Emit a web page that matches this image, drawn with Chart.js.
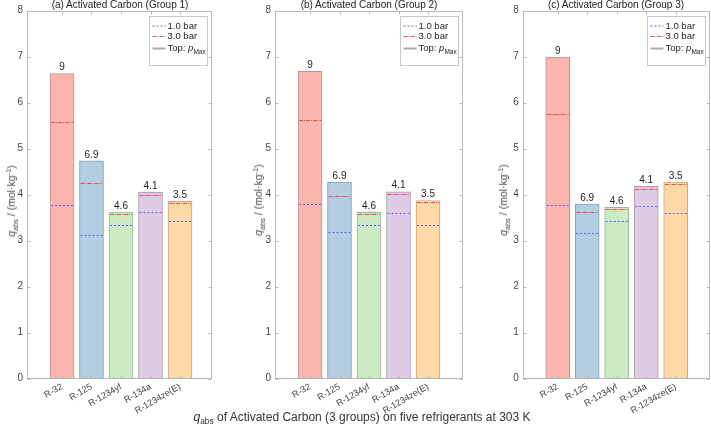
<!DOCTYPE html>
<html>
<head>
<meta charset="utf-8">
<script src="https://cdn.jsdelivr.net/npm/chart.js@4/dist/chart.umd.min.js"></script>
<style>
  body { margin: 0; width: 711px; height: 433px; position: relative; overflow: hidden; background: #fff;
         font-family: "Liberation Sans", Arial, sans-serif; color: #222; }
  canvas { position: absolute; left: 0; top: 0; }
  .ptitle { position: absolute; top: -1px; font-size: 10px; line-height: 11px; white-space: nowrap; transform: translateX(-50%); z-index: 2; }
  .ytitle { position: absolute; font-size: 10.5px; white-space: nowrap; transform: translate(-50%, -50%) rotate(-90deg); z-index: 2; color: #4a4a4a; }
  .xtitle { position: absolute; left: 362px; top: 410px; font-size: 12px; white-space: nowrap; transform: translateX(-50%); z-index: 2; color: #333; }
  sub { font-size: 70%; vertical-align: -0.35em; line-height: 0; }
  sup { font-size: 70%; vertical-align: 0.5em; line-height: 0; }
</style>
</head>
<body>
<canvas id="c1" width="711" height="433"></canvas>
<canvas id="c2" width="711" height="433"></canvas>
<canvas id="c3" width="711" height="433"></canvas>

<div class="ptitle" style="left:120px">(a) Activated Carbon (Group 1)</div>
<div class="ptitle" style="left:369px">(b) Activated Carbon (Group 2)</div>
<div class="ptitle" style="left:616px">(c) Activated Carbon (Group 3)</div>

<div class="ytitle" style="left:11px; top:201px"><i>q</i><sub>abs</sub> / (mol·kg<sup>-1</sup>)</div>
<div class="ytitle" style="left:258px; top:200px"><i>q</i><sub>abs</sub> / (mol·kg<sup>-1</sup>)</div>
<div class="ytitle" style="left:503px; top:200px"><i>q</i><sub>abs</sub> / (mol·kg<sup>-1</sup>)</div>

<div class="xtitle"><i>q</i><sub>abs</sub> of Activated Carbon (3 groups) on five refrigerants at 303 K</div>

<script>
const refrigerants = ["R-32", "R-125", "R-1234yf", "R-134a", "R-1234ze(E)"];
const pMaxLabels = ["9", "6.9", "4.6", "4.1", "3.5"];
const yTicks = [0, 1, 2, 3, 4, 5, 6, 7, 8];

// group 1
const topG1 = [6.63, 4.73, 3.62, 4.05, 3.85];
const bar3G1 = [5.57, 4.26, 3.58, 4.00, 3.81];
const bar1G1 = [3.77, 3.12, 3.33, 3.63, 3.42];
// group 2
const topG2 = [6.68, 4.27, 3.61, 4.06, 3.87];
const bar3G2 = [5.62, 3.96, 3.57, 4.01, 3.83];
const bar1G2 = [3.80, 3.19, 3.33, 3.60, 3.33];
// group 3
const topG3 = [6.99, 3.79, 3.72, 4.18, 4.27];
const bar3G3 = [5.74, 3.63, 3.68, 4.13, 4.23];
const bar1G3 = [3.78, 3.17, 3.43, 3.75, 3.59];

const fills = ["#fbb4ae", "#b3cde3", "#ccebc5", "#decbe4", "#fed9a6"];
const edges = ["#b89592", "#8a9fb3", "#9fb39a", "#ab9db1", "#c2a885"];
const FONT = '"Liberation Sans", Arial, sans-serif';
const frameColor = "#b9b9b9";

// MATLAB-like decorations: 1.0/3.0 bar marks, value labels, box, inward ticks, legend
const decor = {
  id: "decor",
  afterDatasetsDraw(chart, args, opts) {
    const { ctx, chartArea: a, scales: { x, y } } = chart;
    const bars = chart.getDatasetMeta(0).data;
    ctx.save();

    const marks = (vals, color, dash) => {
      ctx.strokeStyle = color;
      ctx.lineWidth = 1;
      ctx.setLineDash(dash);
      bars.forEach((b, i) => {
        const py = Math.round(y.getPixelForValue(vals[i])) + 0.5;
        ctx.beginPath();
        ctx.moveTo(b.x - b.width / 2 + 1, py);
        ctx.lineTo(b.x + b.width / 2 - 1, py);
        ctx.stroke();
      });
    };
    marks(opts.bar1, "#5c5cf5", [2, 2]);
    marks(opts.bar3, "#f24a4a", [4, 1, 1, 1]);
    ctx.setLineDash([]);

    ctx.font = "10px " + FONT;
    ctx.fillStyle = "#222";
    ctx.textAlign = "center";
    ctx.textBaseline = "bottom";
    bars.forEach((b, i) => ctx.fillText(pMaxLabels[i], b.x, b.y - 1));

    // box
    ctx.strokeStyle = frameColor;
    ctx.lineWidth = 1;
    const L = Math.round(a.left) + 0.5, R = Math.round(a.right) - 0.5;
    const T = Math.round(a.top) + 0.5, B = Math.round(a.bottom) - 0.5;
    ctx.strokeRect(L, T, R - L, B - T);
    ctx.beginPath();
    yTicks.forEach(v => {
      const py = Math.round(y.getPixelForValue(v)) + 0.5;
      ctx.moveTo(L, py); ctx.lineTo(L + 3, py);
      ctx.moveTo(R, py); ctx.lineTo(R - 3, py);
    });
    refrigerants.forEach((_, i) => {
      const px = Math.round(x.getPixelForValue(i)) + 0.5;
      ctx.moveTo(px, B); ctx.lineTo(px, B - 3);
      ctx.moveTo(px, T); ctx.lineTo(px, T + 3);
    });
    ctx.stroke();

    // legend
    const lw = 58, lh = 49;
    const lx = Math.round(a.right - 5 - lw) + 0.5, ly = Math.round(a.top + 5) + 0.5;
    ctx.fillStyle = "#fff";
    ctx.fillRect(lx, ly, lw, lh);
    ctx.strokeStyle = "#c8c8c8";
    ctx.strokeRect(lx, ly, lw, lh);
    const rows = [ly + 9.5, ly + 20, ly + 32];
    const sample = (yy, color, dash, w) => {
      ctx.strokeStyle = color; ctx.lineWidth = w; ctx.setLineDash(dash);
      ctx.beginPath(); ctx.moveTo(lx + 3, yy); ctx.lineTo(lx + 16, yy); ctx.stroke();
    };
    sample(rows[0], "#5c5cf5", [2, 2], 1);
    sample(rows[1], "#f24a4a", [4, 1, 1, 1], 1);
    sample(rows[2], "#a9a9a9", [], 2);
    ctx.setLineDash([]);
    ctx.fillStyle = "#222";
    ctx.textAlign = "left";
    ctx.textBaseline = "middle";
    ctx.font = "9.5px " + FONT;
    ctx.fillText("1.0 bar", lx + 18, rows[0]);
    ctx.fillText("3.0 bar", lx + 18, rows[1]);
    let tx = lx + 18;
    ctx.fillText("Top: ", tx, rows[2]);
    tx += ctx.measureText("Top: ").width;
    ctx.font = "italic 9.5px " + FONT;
    ctx.fillText("p", tx, rows[2]);
    tx += ctx.measureText("p").width;
    ctx.font = "6.5px " + FONT;
    ctx.fillText("Max", tx, rows[2] + 3.5);

    ctx.restore();
  }
};

function makePanel(id, area, tops, bar3, bar1) {
  const spacing = 29.5, firstOffset = 35;
  const xMin = -firstOffset / spacing;
  const xMax = xMin + (area.right - area.left) / spacing;
  const yW = 26, xH = 40;
  new Chart(document.getElementById(id), {
    type: "bar",
    data: {
      datasets: [{
        data: tops.map((v, i) => ({ x: i, y: v })),
        backgroundColor: fills,
        borderColor: edges,
        borderWidth: 1,
        borderSkipped: false,
        barThickness: 24
      }]
    },
    options: {
      responsive: false,
      animation: false,
      devicePixelRatio: 1,
      layout: {
        padding: { left: area.left - yW, right: 711 - area.right, top: area.top, bottom: 433 - area.bottom - xH }
      },
      plugins: {
        legend: { display: false },
        tooltip: { enabled: false },
        decor: { bar1: bar1, bar3: bar3 }
      },
      scales: {
        x: {
          type: "linear",
          offset: false,
          min: xMin,
          max: xMax,
          grid: { display: false, drawTicks: false, offset: false },
          border: { display: false },
          afterBuildTicks: s => { s.ticks = refrigerants.map((_, i) => ({ value: i })); },
          afterFit: s => { s.height = xH; },
          ticks: {
            autoSkip: false,
            minRotation: 30,
            maxRotation: 30,
            padding: 3,
            color: "#444",
            font: { family: FONT, size: 9 },
            callback: v => refrigerants[v]
          }
        },
        y: {
          min: 0,
          max: 8,
          grid: { display: false, drawTicks: false },
          border: { display: false },
          afterBuildTicks: s => { s.ticks = yTicks.map(v => ({ value: v })); },
          afterFit: s => { s.width = yW; },
          ticks: { padding: 4, color: "#444", font: { family: FONT, size: 10 } }
        }
      }
    },
    plugins: [decor]
  });
}

makePanel("c1", { left: 27, right: 212, top: 10.5, bottom: 378.5 }, topG1, bar3G1, bar1G1);
makePanel("c2", { left: 275, right: 462.7, top: 10.5, bottom: 378.5 }, topG2, bar3G2, bar1G2);
makePanel("c3", { left: 522.7, right: 710, top: 10.5, bottom: 378.5 }, topG3, bar3G3, bar1G3);
</script>
</body>
</html>
